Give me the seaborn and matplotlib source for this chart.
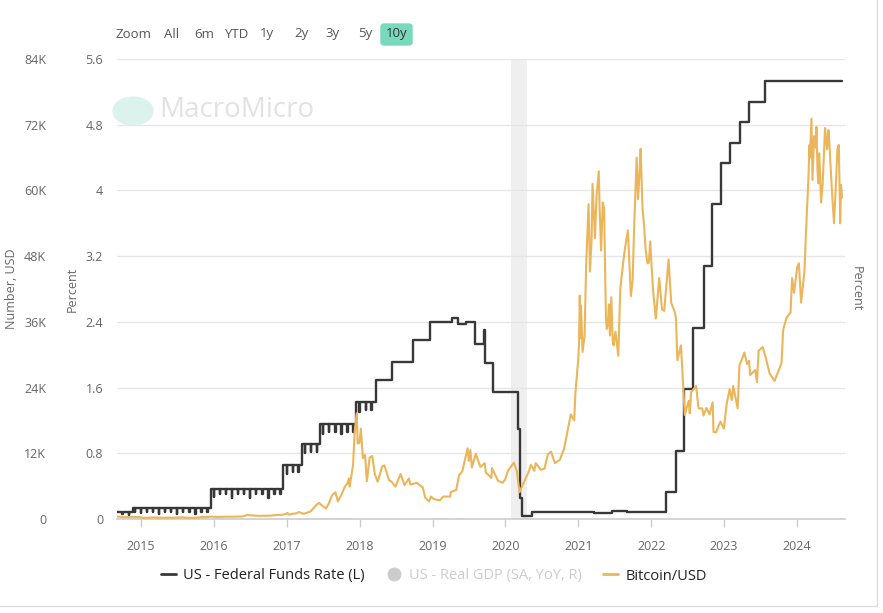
# US Fed funds rate vs Bitcoin, MacroMicro style chart

import numpy as np
import pandas as pd
import seaborn as sns
import matplotlib.pyplot as plt
import matplotlib.dates as mdates
from matplotlib.lines import Line2D
from matplotlib.patches import FancyBboxPatch, Circle

# Federal funds effective rate (percent), change points
fed_dates = ['2014-09-01', '2014-11-20', '2015-12-17', '2016-12-15', '2017-03-16', '2017-06-15',
             '2017-12-14', '2018-03-22', '2018-06-14', '2018-09-27', '2018-12-20', '2019-04-10',
             '2019-05-10', '2019-06-20', '2019-08-01', '2019-09-17', '2019-09-19', '2019-10-31',
             '2020-03-04', '2020-03-16', '2020-03-26', '2020-05-15', '2020-09-01', '2021-01-15',
             '2021-03-20', '2021-06-17', '2021-09-01', '2022-03-17', '2022-05-05', '2022-06-16',
             '2022-07-28', '2022-09-22', '2022-11-03', '2022-12-15', '2023-02-02', '2023-03-23',
             '2023-05-04', '2023-07-27', '2024-08-14']
fed_rate = [0.09, 0.13, 0.37, 0.66, 0.91, 1.16,
            1.42, 1.69, 1.91, 2.18, 2.40, 2.45,
            2.38, 2.40, 2.13, 2.30, 1.90, 1.55,
            1.10, 0.25, 0.04, 0.08, 0.09, 0.08,
            0.07, 0.10, 0.08, 0.33, 0.83, 1.58,
            2.33, 3.08, 3.83, 4.33, 4.58, 4.83,
            5.08, 5.33, 5.33]

# month-end dips of the rate, Sep 2014 .. Feb 2018
dip_rate = [0.06, 0.05, 0.08, 0.07,
            0.08, 0.09, 0.06, 0.08, 0.08, 0.06, 0.08, 0.08, 0.06, 0.08, 0.08, 0.27,
            0.30, 0.30, 0.25, 0.30, 0.30, 0.25, 0.30, 0.30, 0.25, 0.31, 0.31, 0.55,
            0.57, 0.57, 0.80, 0.82, 0.82, 1.04, 1.06, 1.06, 1.03, 1.06, 1.06, 1.30,
            1.33, 1.33]

# Bitcoin / USD (one line per year)
btc_dates = ['2014-09-01', '2014-09-20', '2014-10-05', '2014-10-25', '2014-11-15', '2014-12-10', '2014-12-31',
             '2015-01-14', '2015-01-31', '2015-02-20', '2015-03-10', '2015-03-31', '2015-04-20', '2015-05-15', '2015-06-10', '2015-07-10', '2015-07-31', '2015-08-24', '2015-09-15', '2015-10-15', '2015-11-04', '2015-11-12', '2015-12-01', '2015-12-20',
             '2016-01-15', '2016-02-10', '2016-03-01', '2016-03-31', '2016-04-30', '2016-05-20', '2016-06-01', '2016-06-17', '2016-07-01', '2016-07-31', '2016-08-15', '2016-09-15', '2016-10-10', '2016-10-31', '2016-11-20', '2016-12-10', '2016-12-31',
             '2017-01-04', '2017-01-12', '2017-01-31', '2017-02-20', '2017-03-03', '2017-03-24', '2017-04-15', '2017-05-01', '2017-05-25', '2017-06-11', '2017-06-25', '2017-07-16', '2017-07-31', '2017-08-15', '2017-09-01', '2017-09-14', '2017-09-30', '2017-10-20', '2017-10-31', '2017-11-08', '2017-11-12', '2017-11-29', '2017-12-07', '2017-12-17', '2017-12-22', '2017-12-31',
             '2018-01-07', '2018-01-17', '2018-01-28', '2018-02-06', '2018-02-20', '2018-03-05', '2018-03-18', '2018-04-01', '2018-04-24', '2018-05-05', '2018-05-28', '2018-06-10', '2018-06-29', '2018-07-25', '2018-08-14', '2018-09-05', '2018-09-12', '2018-10-15', '2018-11-14', '2018-11-25', '2018-12-15', '2018-12-24',
             '2019-01-10', '2019-02-07', '2019-02-24', '2019-03-31', '2019-04-02', '2019-04-30', '2019-05-14', '2019-05-30', '2019-06-26', '2019-07-02', '2019-07-10', '2019-07-17', '2019-08-06', '2019-08-29', '2019-09-20', '2019-09-25', '2019-10-23', '2019-10-26', '2019-11-25', '2019-12-18', '2019-12-31',
             '2020-01-14', '2020-02-13', '2020-02-27', '2020-03-12', '2020-03-30', '2020-04-29', '2020-05-08', '2020-05-25', '2020-06-01', '2020-06-27', '2020-07-15', '2020-08-01', '2020-08-17', '2020-09-05', '2020-09-30', '2020-10-21', '2020-11-05', '2020-11-24', '2020-12-11', '2020-12-17', '2020-12-31',
             '2021-01-04', '2021-01-08', '2021-01-12', '2021-01-14', '2021-01-22', '2021-02-01', '2021-02-09', '2021-02-21', '2021-02-28', '2021-03-08', '2021-03-13', '2021-03-25', '2021-04-02', '2021-04-13', '2021-04-18', '2021-04-25', '2021-05-03', '2021-05-10', '2021-05-13', '2021-05-19', '2021-05-23', '2021-05-29', '2021-06-03', '2021-06-08', '2021-06-15', '2021-06-22', '2021-06-26', '2021-07-06', '2021-07-20', '2021-07-30', '2021-08-14', '2021-08-22', '2021-09-06', '2021-09-21', '2021-09-30', '2021-10-08', '2021-10-20', '2021-10-27', '2021-11-03', '2021-11-09', '2021-11-18', '2021-11-26', '2021-12-04', '2021-12-13', '2021-12-20', '2021-12-27',
             '2022-01-10', '2022-01-24', '2022-02-10', '2022-02-24', '2022-03-07', '2022-03-29', '2022-04-11', '2022-04-30', '2022-05-05', '2022-05-12', '2022-05-30', '2022-06-13', '2022-06-18', '2022-07-08', '2022-07-13', '2022-07-20', '2022-07-30', '2022-08-14', '2022-08-26', '2022-09-13', '2022-09-20', '2022-10-05', '2022-10-20', '2022-11-05', '2022-11-09', '2022-11-21', '2022-12-14', '2022-12-31',
             '2023-01-14', '2023-01-29', '2023-02-09', '2023-02-16', '2023-03-10', '2023-03-19', '2023-04-13', '2023-04-26', '2023-05-06', '2023-05-12', '2023-06-06', '2023-06-15', '2023-06-23', '2023-07-13', '2023-07-31', '2023-08-17', '2023-09-11', '2023-09-30', '2023-10-16', '2023-10-24', '2023-11-09', '2023-11-30', '2023-12-08', '2023-12-18',
             '2024-01-02', '2024-01-11', '2024-01-22', '2024-02-08', '2024-02-15', '2024-02-28', '2024-03-04', '2024-03-06', '2024-03-14', '2024-03-19', '2024-03-27', '2024-04-05', '2024-04-08', '2024-04-13', '2024-04-17', '2024-04-22', '2024-05-01', '2024-05-09', '2024-05-21', '2024-05-31', '2024-06-07', '2024-06-10', '2024-06-24', '2024-07-05', '2024-07-14', '2024-07-22', '2024-07-29', '2024-08-05', '2024-08-09', '2024-08-14']
btc_price = [480, 410, 330, 355, 390, 350, 320,
             180, 230, 245, 290, 245, 225, 240, 230, 285, 285, 210, 230, 260, 400, 320, 380, 440,
             380, 380, 430, 415, 450, 440, 530, 750, 670, 620, 575, 605, 615, 700, 730, 770, 960,
             1130, 780, 960, 1050, 1280, 930, 1180, 1420, 2400, 2950, 2500, 1930, 2880, 4300, 4900, 3200, 4340, 5980, 6450, 7400, 5900, 9900, 16000, 19300, 13800, 13900,
             16500, 11100, 11700, 6900, 11200, 11500, 8200, 6800, 9600, 9800, 7100, 6800, 5900, 8200, 6200, 7400, 6300, 6600, 5700, 3900, 3200, 4100,
             3600, 3400, 4100, 4100, 4900, 5300, 8000, 8700, 12900, 10600, 12600, 9400, 11900, 9500, 10200, 8500, 7500, 9300, 7000, 6600, 7200,
             8800, 10300, 8800, 4900, 6400, 8800, 9900, 8800, 10200, 9000, 9200, 11800, 12300, 10200, 10800, 12800, 15600, 19100, 18000, 23000, 29000,
             31900, 40800, 33000, 39000, 30500, 33500, 46500, 57500, 45200, 50900, 61200, 51300, 59000, 63500, 56000, 49000, 57800, 56700, 49700, 37000, 34700, 35600, 39200, 33500, 40500, 32500, 31700, 34200, 29800, 42000, 47000, 49300, 52700, 40700, 43800, 54000, 66000, 58400, 63000, 67600, 56900, 53700, 49200, 46700, 46800, 50700,
             41800, 36600, 44000, 38300, 38000, 47400, 39500, 37700, 36500, 29000, 31700, 22500, 19000, 21600, 19300, 23200, 23600, 24300, 20200, 20200, 18900, 20300, 19100, 21300, 15900, 15800, 17800, 16500,
             21000, 23700, 21700, 24300, 20200, 28000, 30400, 28300, 28900, 26300, 27200, 25000, 30700, 31400, 29200, 26600, 25200, 27000, 28500, 34500, 36700, 37700, 44000, 41300,
             45900, 46700, 39500, 45300, 52000, 62500, 68300, 66000, 73100, 61900, 69900, 67800, 71600, 63800, 61300, 66800, 57800, 61200, 71400, 67500, 71000, 69700, 60200, 54000, 60800, 67500, 68300, 54000, 61000, 58700]

pct_ticks = [0, 0.8, 1.6, 2.4, 3.2, 4.0, 4.8, 5.6]
pct_labels = ['0', '0.8', '1.6', '2.4', '3.2', '4', '4.8', '5.6']
usd_ticks = [0, 12000, 24000, 36000, 48000, 60000, 72000, 84000]
usd_labels = ['0', '12K', '24K', '36K', '48K', '60K', '72K', '84K']
range_buttons = ['Zoom', 'All', '6m', 'YTD', '1y', '2y', '3y', '5y', '10y']

# build the step series with the month-end dips
fed = pd.Series(fed_rate, index=pd.to_datetime(fed_dates))
dips = pd.date_range('2014-10-01', '2018-03-01', freq='MS') - pd.Timedelta(days=1)
pts = list(zip(fed.index, fed.values))
for d, v in zip(dips, dip_rate):
    pts.append((d, v))
    pts.append((d + pd.Timedelta(days=2), fed.asof(d)))
fed_df = pd.DataFrame(pts, columns=['date', 'rate']).sort_values('date')
btc_df = pd.DataFrame({'date': pd.to_datetime(btc_dates), 'price': btc_price})

sns.set_theme(style='white')
plt.rcParams['font.family'] = ['Open Sans', 'DejaVu Sans']

BLACK = '#383838'
ORANGE = '#EBB55A'
GREY_TXT = '#666666'

W, H = 883, 613
fig = plt.figure(figsize=(W / 100, H / 100), dpi=100)
ax = fig.add_axes([117 / W, 1 - 519 / H, (845 - 117) / W, (519 - 59) / H])
ax2 = ax.twinx()

# recession band
ax.axvspan(pd.Timestamp('2020-01-27'), pd.Timestamp('2020-04-20'), color='#efefef', lw=0, zorder=0)

sns.lineplot(data=fed_df, x='date', y='rate', ax=ax, color=BLACK, linewidth=1.7,
             drawstyle='steps-post', zorder=3)
sns.lineplot(data=btc_df, x='date', y='price', ax=ax2, color=ORANGE, linewidth=1.5)

ax.set_ylim(0, 5.6)
ax2.set_ylim(0, 84000)
ax.set_xlim(pd.Timestamp('2014-09-03'), pd.Timestamp('2024-08-29'))
ax.set_yticks(pct_ticks)
ax.set_yticklabels(pct_labels)
ax2.set_yticks(usd_ticks)
ax2.set_yticklabels(usd_labels)
ax2.yaxis.tick_left()

ax.set_xlabel('')
ax.set_ylabel('')
ax2.set_xlabel('')
ax2.set_ylabel('')

ax.xaxis.set_major_locator(mdates.YearLocator())
ax.xaxis.set_major_formatter(mdates.DateFormatter('%Y'))

ax.grid(axis='y', color='#e6e6e6', linewidth=1)
ax.grid(axis='x', visible=False)
ax2.grid(False)
for a in (ax, ax2):
    for s in ['top', 'right', 'left']:
        a.spines[s].set_visible(False)
ax2.spines['bottom'].set_visible(False)
ax.spines['bottom'].set_color('#cccccc')
ax.spines['bottom'].set_linewidth(1.2)

ax.tick_params(axis='y', length=0, pad=10, labelsize=9, labelcolor=GREY_TXT)
ax2.tick_params(axis='y', length=0, pad=51, labelsize=9, labelcolor=GREY_TXT)
ax.tick_params(axis='x', length=6, width=1, color='#cccccc', pad=9, labelsize=9,
               labelcolor=GREY_TXT, bottom=True)

# axis titles
fig.text(12 / W, 1 - 289 / H, 'Number, USD', rotation=90, ha='center', va='center',
         fontsize=9, color=GREY_TXT)
fig.text(72 / W, 1 - 289 / H, 'Percent', rotation=90, ha='center', va='center',
         fontsize=9, color=GREY_TXT)
fig.text(856 / W, 1 - 289 / H, 'Percent', rotation=270, ha='center', va='center',
         fontsize=9, color=GREY_TXT)

# range selector
btn_x = [134, 172, 204, 236, 267, 301, 333, 365, 397]
for label, x in zip(range_buttons, btn_x):
    if label == '10y':
        fig.patches.append(FancyBboxPatch((381 / W, 1 - 45 / H), 31 / W, 21 / H,
                                          boxstyle='round,pad=0,rounding_size=0.004',
                                          transform=fig.transFigure, color='#78d9bd', zorder=1))
        col = '#333333'
    else:
        col = '#555555'
    fig.text(x / W, 1 - 34 / H, label, ha='center', va='center', fontsize=9.5, color=col, zorder=2)

# watermark
fig.patches.append(Circle((133 / W, 1 - 111 / H), 20 / W, transform=fig.transFigure,
                          color='#dcf2ec', zorder=0))
fig.text(159 / W, 1 - 110 / H, 'MacroMicro', ha='left', va='center', fontsize=20,
         color='#e2e2e2', zorder=0)

# legend
handles = [Line2D([], [], color=BLACK, linewidth=2),
           Line2D([], [], color='#cccccc', marker='o', linestyle='none', markersize=9),
           Line2D([], [], color=ORANGE, linewidth=2)]
labels = ['US - Federal Funds Rate (L)', 'US - Real GDP (SA, YoY, R)', 'Bitcoin/USD']
leg = fig.legend(handles, labels, loc='center', bbox_to_anchor=(434 / W, 1 - 576 / H), ncol=3,
                 frameon=False, fontsize=10.5, handlelength=1.0, handletextpad=0.5, columnspacing=1.5)
leg.get_texts()[0].set_color('#222222')
leg.get_texts()[1].set_color('#cccccc')
leg.get_texts()[2].set_color('#222222')

# card border
fig.add_artist(Line2D([877 / W, 877 / W], [1 - 606 / H, 1], color='#dddddd', linewidth=1))
fig.add_artist(Line2D([0, 877 / W], [1 - 606 / H, 1 - 606 / H], color='#dddddd', linewidth=1))

plt.savefig('out.png', dpi=100)
